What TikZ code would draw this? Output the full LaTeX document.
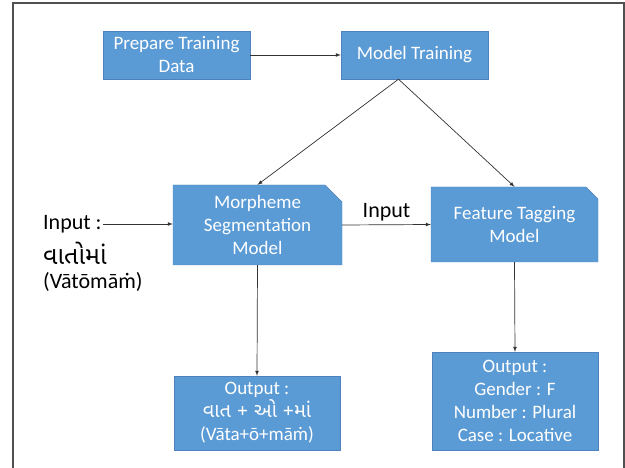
\documentclass[tikz,border=0pt]{standalone}
\usepackage{fontspec}
\setmainfont{Carlito}
\newfontfamily\gujfont[Script=Gujarati]{Noto Sans Gujarati UI}
\usetikzlibrary{arrows,positioning,shapes.misc}
\definecolor{boxblue}{HTML}{5B9BD5}
\definecolor{boxline}{HTML}{4F81BD}
\definecolor{framegray}{HTML}{505050}

\begin{document}
\begin{tikzpicture}[x=1pt, y=-1pt,
		block/.style={draw=boxline, fill=boxblue, text=white, align=center, inner sep=2pt, font=\fontsize{19}{23}\selectfont},
		snipblock/.style={block, chamfered rectangle, chamfered rectangle corners=north east},
		link/.style={-latex, draw=black!80, line width=0.7pt},
		plain/.style={inner sep=1pt, font=\fontsize{22}{28}\selectfont}]
			\useasboundingbox (0,0) rectangle (625,468);
			\draw[framegray, line width=1.5pt] (13,468) -- (13,3) -- (624,3) -- (624,468);

			\node[block, minimum width=147pt, minimum height=48pt] (prep) at (176.5,55) {Prepare Training\\Data};
			\node[block, minimum width=147pt, minimum height=48pt] (train) at (414.5,55) {Model Training};
			\node[snipblock, minimum width=169pt, minimum height=80pt, chamfered rectangle xsep=9pt, chamfered rectangle ysep=8pt] (morph) at (257.5,225) {Morpheme\\Segmentation\\Model};
			\node[snipblock, minimum width=167pt, minimum height=75pt, chamfered rectangle xsep=6pt, chamfered rectangle ysep=6pt] (feat) at (514.5,224.5) {Feature Tagging\\Model};
			\node[block, minimum width=166pt, minimum height=74pt] (segout) at (257,413) {Output :\\{\gujfont\fontsize{20}{23}\selectfont વાત + ઓ +માં}\\(Vāta+ō+māṁ)};
			\node[block, minimum width=166pt, minimum height=98pt] (tagout) at (515,401) {Output :\\Gender : F\\Number : Plural\\Case : Locative};

			% input word on the left
			\node[plain, anchor=west] (inp) at (42,224) {Input :};
			\node[plain, anchor=west, font=\gujfont\fontsize{25}{28}\selectfont] (word) at (42,253) {વાતોમાં};
			\node[plain, anchor=west] (translit) at (42,282) {(Vātōmāṁ)};

			\draw[link] (prep) to (train);
			\draw[link] ([xshift=-16pt]train.south) to (morph.north);
			\draw[link] ([xshift=-16pt]train.south) to (feat.north);
			\draw[link] (inp.east) to (inp.east -| morph.west);
			\draw[link] (morph.east) to node[plain, above=2pt] {Input} (feat.west);
			\draw[link] (morph.south) to (segout.north);
			\draw[link] (feat.south) to (tagout.north);
		\end{tikzpicture}
\end{document}
